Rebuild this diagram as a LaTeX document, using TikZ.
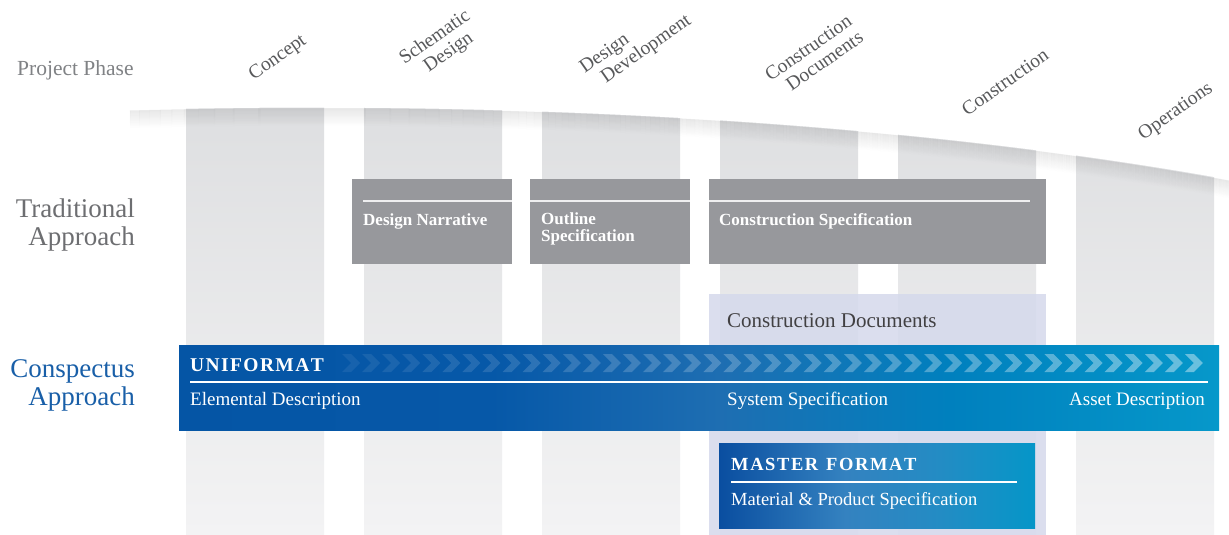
\documentclass[tikz,border=0pt]{standalone}
\usepackage{fontspec}
\setmainfont{Liberation Serif}
\definecolor{colTop}{RGB}{221,222,224}
\definecolor{colBot}{RGB}{243,243,244}
\definecolor{boxGray}{RGB}{151,152,156}
\definecolor{lavender}{RGB}{213,217,236}
\definecolor{phaseTxt}{RGB}{88,89,91}
\definecolor{ppTxt}{RGB}{128,130,133}
\definecolor{tradTxt}{RGB}{109,110,113}
\definecolor{consBlue}{RGB}{25,95,168}
\definecolor{cdTxt}{RGB}{65,64,66}
\definecolor{bA}{RGB}{5,85,165}
\definecolor{bB}{RGB}{6,88,168}
\definecolor{bC}{RGB}{30,110,178}
\definecolor{bD}{RGB}{0,128,190}
\definecolor{bE}{RGB}{6,152,202}
\definecolor{mA}{RGB}{10,78,160}
\definecolor{mB}{RGB}{52,130,192}
\definecolor{mC}{RGB}{35,140,196}
\definecolor{mD}{RGB}{5,150,200}
\pgfdeclarehorizontalshading{bandshade}{100bp}{color(0bp)=(bA); color(25bp)=(bA); color(40bp)=(bB); color(51bp)=(bC); color(62bp)=(bD); color(75bp)=(bE); color(100bp)=(bE)}
\pgfdeclarehorizontalshading{mastershade}{100bp}{color(0bp)=(mA); color(25bp)=(mA); color(45bp)=(mB); color(60bp)=(mC); color(75bp)=(mD); color(100bp)=(mD)}
\begin{document}
\begin{tikzpicture}[x=1pt,y=-1pt,
  box/.style={anchor=north west, inner sep=0pt, outer sep=0pt},
  graybox/.style={box, fill=boxGray},
  boxtext/.style={anchor=base west, inner sep=0pt, text=white, align=left,
    font=\fontsize{17}{16.5}\selectfont\bfseries},
  phase/.style={rotate=35, align=left, inner sep=0pt, text=phaseTxt,
    font=\fontsize{19.5}{20}\selectfont},
  sidelabel/.style={anchor=base east, inner sep=0pt, align=right,
    font=\fontsize{27}{28}\selectfont},
  bandtext/.style={anchor=base west, inner sep=0pt, text=white,
    font=\fontsize{19}{20}\selectfont},
  whiteline/.style={white, line width=1.4pt},
]
\useasboundingbox (0,0) rectangle (1229,535);
\fill[white] (0,0) rectangle (1229,535);

% phase columns
\foreach \i in {0,...,5}{
  \shade[top color=colTop, bottom color=colBot] ({186+178*\i},90) rectangle ++(138,445);
}
% soft shadow under the curved edge
\foreach \k in {1,...,18}{
  \pgfmathsetmacro{\op}{0.0045*(19-\k)}
  \draw[black, opacity=\op, line width=1.02pt]
    (130,{110+\k}) .. controls (500,{100+\k}) and (900,{120+\k}) .. (1229,{180+\k});
}
% white area above the curve
\fill[white] (-2,-2) -- (1231,-2) -- (1231,180) .. controls (900,120) and (500,100) .. (130,110) -- (-2,110) -- cycle;

% phase labels
\node[phase] (pConcept) at (278,58) {Concept};
\node[phase] (pSchem) at (441,46) {Schematic\\\hspace*{0.8em}Design};
\node[phase] (pDD) at (636,45) {Design\\\hspace*{0.6em}Development};
\node[phase] (pCD) at (814,56) {Construction\\\hspace*{0.6em}Documents};
\node[phase] (pCons) at (1005,82) {Construction};
\node[phase] (pOps) at (1176,112) {Operations};

\node[anchor=base west, inner sep=0pt, text=ppTxt, font=\fontsize{21.5}{22}\selectfont] (pp) at (17,76) {Project Phase};

% side labels (anchor base = baseline of last line)
\node[sidelabel, text=tradTxt] (trad) at (135,245) {Traditional\\Approach};
\node[sidelabel, text=consBlue] (cons) at (135,405) {Conspectus\\Approach};

% traditional approach boxes
\node[graybox, minimum width=160pt, minimum height=85pt] (dn) at (352,179) {};
\node[graybox, minimum width=160pt, minimum height=85pt] (os) at (530,179) {};
\node[graybox, minimum width=337pt, minimum height=85pt] (cs) at (709,179) {};
\draw[whiteline, opacity=0.85] (363,201) -- (1030,201);
\node[boxtext] (dnt) at (363,225) {Design Narrative};
\node[boxtext] (ost) at (541,241) {Outline\\Specification};
\node[boxtext] (cst) at (719,225) {Construction Specification};

% construction documents backdrop
\node[box, fill=lavender, fill opacity=0.85, minimum width=337pt, minimum height=241pt] (cd) at (709,294) {};
\node[anchor=base west, inner sep=0pt, text=cdTxt, font=\fontsize{21}{22}\selectfont] (cdt) at (727,327) {Construction Documents};

% uniformat band
\node[box, shading=bandshade, minimum width=1040pt, minimum height=85pt] (uni) at (179,345) {};
\foreach \i in {0,...,42}{
  \pgfmathsetmacro{\cx}{342+20.07*\i}
  \pgfmathsetmacro{\op}{0.07+0.33*\i/42}
  \fill[white, fill opacity=\op] (\cx,354) -- ({\cx+9},354) -- ({\cx+18},363) -- ({\cx+9},372) -- (\cx,372) -- ({\cx+9},363) -- cycle;
}
\node[bandtext, font=\fontsize{19.5}{20}\selectfont\bfseries] (unit) at (190,371) {U\kern1.4pt N\kern1.4pt I\kern1.4pt F\kern1.4pt O\kern1.4pt R\kern1.4pt M\kern1.4pt A\kern1.4pt T};
\draw[whiteline] (190,382) -- (1208,382);
\node[bandtext] (ed) at (190,405) {Elemental Description};
\node[bandtext] (ss) at (727,405) {System Specification};
\node[bandtext, anchor=base east] (ad) at (1205,405) {Asset Description};

% master format box
\node[box, shading=mastershade, minimum width=316pt, minimum height=85pt] (mf) at (719,443) {};
\node[bandtext, font=\fontsize{18.5}{20}\selectfont\bfseries] (mft) at (731,470) {M\kern1.6pt A\kern1.6pt S\kern1.6pt T\kern1.6pt E\kern1.6pt R\kern1.6pt{} \kern1.6pt F\kern1.6pt O\kern1.6pt R\kern1.6pt M\kern1.6pt A\kern1.6pt T};
\draw[whiteline] (731,482) -- (1017,482);
\node[bandtext, font=\fontsize{18.5}{20}\selectfont] (mps) at (731,505) {Material \& Product Specification};
\end{tikzpicture}
\end{document}
